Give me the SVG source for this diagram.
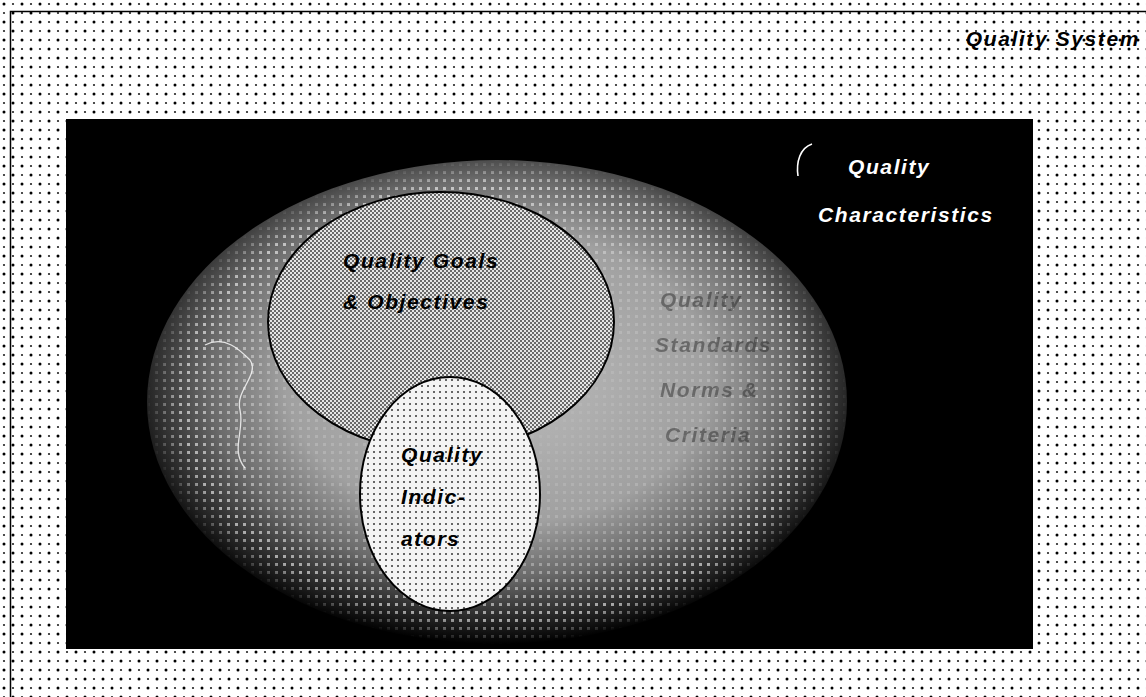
<svg xmlns="http://www.w3.org/2000/svg" width="1146" height="697" viewBox="0 0 1146 697">
  <defs>
    <pattern id="bgDots" width="18" height="18" patternUnits="userSpaceOnUse">
      <rect width="18" height="18" fill="#ffffff"/>
      <circle cx="4" cy="4" r="1.5" fill="#000"/>
      <circle cx="13" cy="13" r="1.5" fill="#000"/>
      <circle cx="13" cy="4" r="1.1" fill="#222"/>
      <circle cx="4" cy="13" r="1.1" fill="#222"/>
    </pattern>
    <pattern id="checker" width="4" height="4" patternUnits="userSpaceOnUse">
      <rect width="4" height="4" fill="#e6e6e6"/>
      <rect x="0" y="0" width="2" height="2" fill="#6a6a6a"/>
      <rect x="2" y="2" width="2" height="2" fill="#6a6a6a"/>
    </pattern>
    <pattern id="lightDots" width="6" height="6" patternUnits="userSpaceOnUse">
      <rect width="6" height="6" fill="#f4f4f4"/>
      <rect x="1" y="1" width="2" height="2" fill="#666"/>
    </pattern>
    <pattern id="halftone" width="8" height="8" patternUnits="userSpaceOnUse">
      <rect x="3" y="3" width="3" height="3" fill="#fff"/>
    </pattern>
    <radialGradient id="halo" cx="0.5" cy="0.45" r="0.55">
      <stop offset="0" stop-color="#bcbcbc"/>
      <stop offset="0.55" stop-color="#a0a0a0"/>
      <stop offset="0.75" stop-color="#6a6a6a"/>
      <stop offset="0.9" stop-color="#2a2a2a"/>
      <stop offset="1" stop-color="#000"/>
    </radialGradient>
    <radialGradient id="dotFade" cx="0.5" cy="0.5" r="0.5">
      <stop offset="0" stop-color="#fff" stop-opacity="0"/>
      <stop offset="0.6" stop-color="#fff" stop-opacity="0.2"/>
      <stop offset="0.9" stop-color="#fff" stop-opacity="0.6"/>
      <stop offset="1" stop-color="#fff" stop-opacity="0"/>
    </radialGradient>
    <mask id="haloMask">
      <ellipse cx="497" cy="402" rx="350" ry="242" fill="url(#dotFade)"/>
    </mask>
    <style>
      .lbl { font-family: "Liberation Sans", Arial, sans-serif; font-weight: bold; font-style: italic; font-size: 21px; letter-spacing: 1.6px; }
      .dark { fill: #000; }
      .white { fill: #fff; }
      .faint { fill: #222; opacity: 0.45; }
    </style>
  </defs>

  <!-- background -->
  <g id="background">
    <rect x="0" y="0" width="1146" height="697" fill="url(#bgDots)"/>
    <path d="M10.5 700 L10.5 11.5 L1146 11.5" fill="none" stroke="#000" stroke-width="1.5"/>
    <text class="lbl dark" x="1140" y="46" text-anchor="end" font-size="20">Quality System</text>
  </g>

  <!-- dark panel -->
  <g id="panel">
    <rect x="66" y="119" width="967" height="530" fill="#000"/>
  </g>

  <!-- quality standards halo -->
  <g id="standards">
    <ellipse cx="497" cy="402" rx="350" ry="242" fill="url(#halo)"/>
    <rect x="140" y="155" width="720" height="495" fill="url(#halftone)" mask="url(#haloMask)"/>
    <path d="M205 345 C225 335 240 350 250 360 C260 375 235 390 240 410 C245 430 230 450 245 468" fill="none" stroke="#fff" stroke-width="1.3" opacity="0.8"/>
    <text class="lbl faint" x="660" y="307">Quality</text>
    <text class="lbl faint" x="655" y="352">Standards</text>
    <text class="lbl faint" x="660" y="397">Norms &amp;</text>
    <text class="lbl faint" x="665" y="442">Criteria</text>
  </g>

  <!-- goals -->
  <g id="goals">
    <ellipse cx="441" cy="322" rx="173" ry="130" fill="url(#checker)" stroke="#000" stroke-width="2"/>
    <text class="lbl dark" x="343" y="268">Quality Goals</text>
    <text class="lbl dark" x="343" y="309">&amp; Objectives</text>
  </g>

  <!-- indicators -->
  <g id="indicators">
    <ellipse cx="450" cy="494" rx="90" ry="117" fill="url(#lightDots)" stroke="#000" stroke-width="2"/>
    <text class="lbl dark" x="401" y="462">Quality</text>
    <text class="lbl dark" x="401" y="504">Indic-</text>
    <text class="lbl dark" x="401" y="546">ators</text>
  </g>

  <!-- characteristics -->
  <g id="characteristics">
    <path d="M812 144 C800 148 796 162 798 176" fill="none" stroke="#fff" stroke-width="1.6"/>
    <text class="lbl white" x="848" y="174">Quality</text>
    <text class="lbl white" x="818" y="222" font-size="20">Characteristics</text>
  </g>

  <g id="connectors"></g>
</svg>
